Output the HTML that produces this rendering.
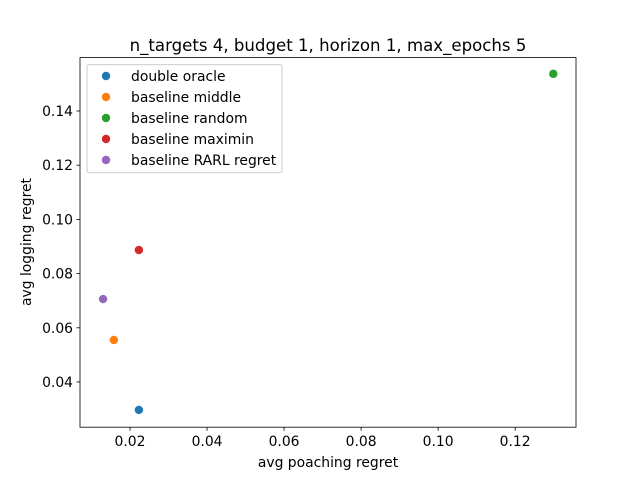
<!DOCTYPE html>
<html><head><meta charset="utf-8"><style>body{margin:0;background:#fff}svg{display:block;font-family:"DejaVu Sans","Liberation Sans",sans-serif}</style></head>
<body>
<svg id="chart" width="640" height="480" xmlns="http://www.w3.org/2000/svg">
<rect width="640" height="480" fill="#fff"/>
<text x="328" y="51" font-size="16.6" text-anchor="middle">n_targets 4, budget 1, horizon 1, max_epochs 5</text>
<g id="axes"></g>
<g id="points"></g>
<rect x="80" y="57.6" width="496" height="369.6" fill="none" stroke="#000" stroke-width="0.8"/>
<text x="328" y="467" font-size="13.9" text-anchor="middle">avg poaching regret</text>
<text transform="translate(31,242) rotate(-90)" font-size="13.9" text-anchor="middle">avg logging regret</text>
<g id="legend"></g>
</svg>
<script>
const seriesNames = ["double oracle","baseline middle","baseline random","baseline maximin","baseline RARL regret"];
const xValues = [0.0223,0.0158,0.1299,0.0223,0.0130];
const yValues = [0.0297,0.0555,0.1537,0.0887,0.0706];
const colors = ["#1f77b4","#ff7f0e","#2ca02c","#d62728","#9467bd"];
const xTicks = [0.02,0.04,0.06,0.08,0.10,0.12];
const yTicks = [0.04,0.06,0.08,0.10,0.12,0.14];
const xTickLabels = ["0.02","0.04","0.06","0.08","0.10","0.12"];
const yTickLabels = ["0.04","0.06","0.08","0.10","0.12","0.14"];
const L=80,R=576,T=57.6,B=427.2;
const xMin=0.00701,xMax=0.1358,yMin=0.02332,yMax=0.1597;
const sx=v=>L+(v-xMin)/(xMax-xMin)*(R-L);
const sy=v=>B-(v-yMin)/(yMax-yMin)*(B-T);
const NS="http://www.w3.org/2000/svg";
function mk(t,a,p){const e=document.createElementNS(NS,t);for(const k in a)e.setAttribute(k,a[k]);p.appendChild(e);return e;}
const ax=document.getElementById('axes');
xTicks.forEach((v,i)=>{const x=sx(v);
 const l=mk('line',{x1:x,x2:x,y1:B,y2:B+3.5,stroke:'#000','stroke-width':0.8},ax);
 
 
 const t=mk('text',{x:x,y:B+19,'font-size':13.9,'text-anchor':'middle'},ax);t.textContent=xTickLabels[i];
 
 });
yTicks.forEach((v,i)=>{const y=sy(v);
 const l=mk('line',{x1:L-3.5,x2:L,y1:y,y2:y,stroke:'#000','stroke-width':0.8},ax);
 
 
 const t=mk('text',{x:L-7,y:y+5,'font-size':13.9,'text-anchor':'end'},ax);t.textContent=yTickLabels[i];
 
 });
const pg=document.getElementById('points');
xValues.forEach((v,i)=>{const c=mk('circle',{cx:sx(v),cy:sy(yValues[i]),r:4.2,fill:colors[i]},pg);
 
 });
const lg=document.getElementById('legend');
const box=mk('rect',{x:87,y:64.6,width:195,height:108,rx:2,fill:'#fff','fill-opacity':0.8,stroke:'#ccc'},lg);


seriesNames.forEach((n,i)=>{const y=76+i*21;
 const c=mk('circle',{cx:106,cy:y,r:4.2,fill:colors[i]},lg);
 
 
 const t=mk('text',{x:131,y:y+5,'font-size':13.9},lg);t.textContent=n;
 
 });
</script>
</body></html>
